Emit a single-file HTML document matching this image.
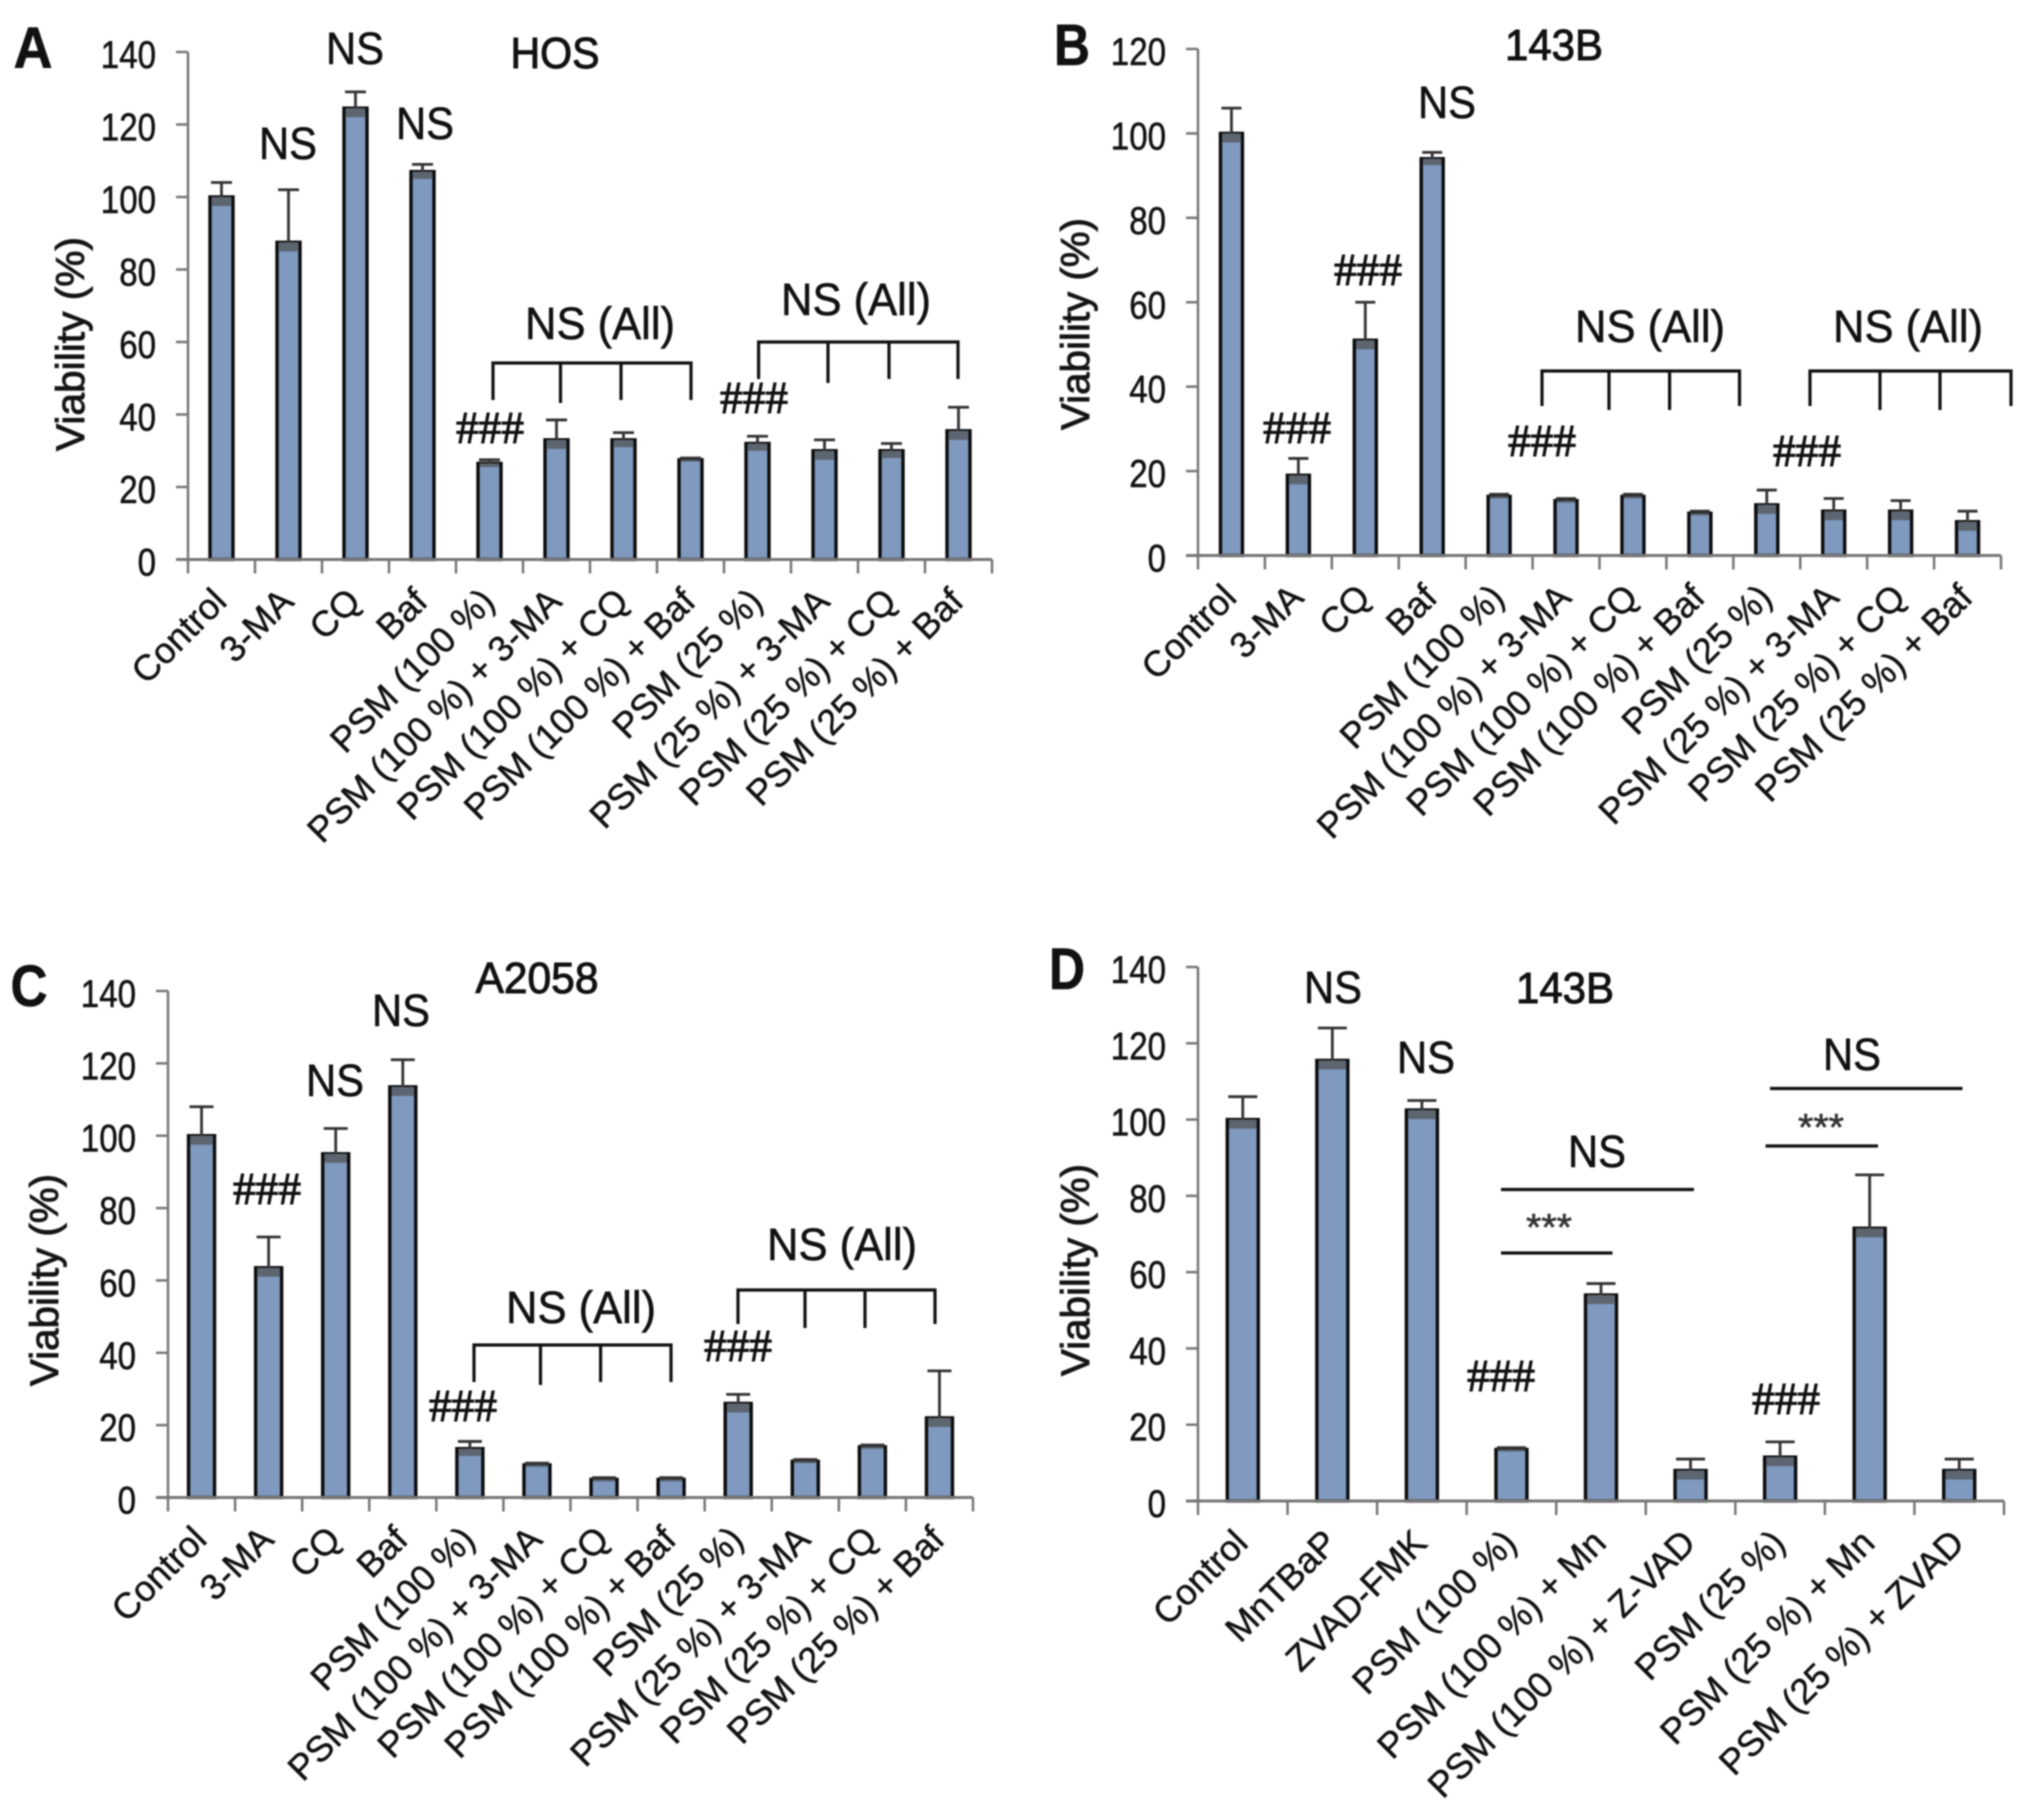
<!DOCTYPE html>
<html lang="en">
<head>
<meta charset="utf-8">
<title>Viability bar charts</title>
<style>
html,body{margin:0;padding:0;background:#fff;width:2031px;height:1815px;overflow:hidden}
svg{display:block;filter:blur(0.9px)}
text{font-family:"Liberation Sans",Arial,sans-serif;fill:#111}
.ns{font-size:45px;text-anchor:middle;stroke:#111;stroke-width:.6px}
.title{font-size:44px;text-anchor:middle;stroke:#111;stroke-width:1px}
.letter{font-size:58px;font-weight:bold;text-anchor:middle;stroke:#111;stroke-width:.6px}
.ylab{font-size:40px;text-anchor:middle;stroke:#222;stroke-width:1px}
.hash{font-family:"Liberation Serif",serif;font-size:46px;text-anchor:middle;stroke:#111;stroke-width:1px}
.star{font-size:38px;text-anchor:middle;fill:#333;stroke:#333;stroke-width:.6px}
.br{fill:none;stroke:#111;stroke-width:3.2px}
</style>
</head>
<body>
<svg id="figure" xmlns="http://www.w3.org/2000/svg" width="2031" height="1815" viewBox="0 0 2031 1815">
  <rect width="2031" height="1815" fill="#fff"/>
  <g id="panel-a">
    <text class="letter" x="33" y="68" textLength="39" lengthAdjust="spacingAndGlyphs">A</text>
    <text class="title" x="555" y="68" textLength="89" lengthAdjust="spacingAndGlyphs">HOS</text>
    <text class="ylab" transform="translate(84,344) rotate(-90)" textLength="214" lengthAdjust="spacingAndGlyphs">Viability (%)</text>
    <text class="ns" x="288" y="159" textLength="58" lengthAdjust="spacingAndGlyphs">NS</text>
    <text class="ns" x="355" y="64" textLength="58" lengthAdjust="spacingAndGlyphs">NS</text>
    <text class="ns" x="425" y="139" textLength="58" lengthAdjust="spacingAndGlyphs">NS</text>
    <text class="ns" x="600" y="339" textLength="150" lengthAdjust="spacingAndGlyphs">NS (All)</text>
    <text class="ns" x="856" y="315" textLength="150" lengthAdjust="spacingAndGlyphs">NS (All)</text>
    <text class="hash" x="490" y="443" textLength="68" lengthAdjust="spacingAndGlyphs">###</text>
    <text class="hash" x="754" y="413" textLength="68" lengthAdjust="spacingAndGlyphs">###</text>
    <path class="br" d="M493 400V363H691V400M560.5 363V403M621 363V400"/>
    <path class="br" d="M758.6 379V342H958V379M828 342V383M889 342V379"/>
  </g>
  <g id="panel-b">
    <text class="letter" x="1072" y="65" textLength="36" lengthAdjust="spacingAndGlyphs">B</text>
    <text class="title" x="1554" y="60" textLength="98" lengthAdjust="spacingAndGlyphs">143B</text>
    <text class="ylab" transform="translate(1089,324) rotate(-90)" textLength="212" lengthAdjust="spacingAndGlyphs">Viability (%)</text>
    <text class="ns" x="1447" y="118" textLength="58" lengthAdjust="spacingAndGlyphs">NS</text>
    <text class="ns" x="1650" y="342" textLength="150" lengthAdjust="spacingAndGlyphs">NS (All)</text>
    <text class="ns" x="1908" y="342" textLength="150" lengthAdjust="spacingAndGlyphs">NS (All)</text>
    <text class="hash" x="1297" y="443" textLength="68" lengthAdjust="spacingAndGlyphs">###</text>
    <text class="hash" x="1368" y="285" textLength="68" lengthAdjust="spacingAndGlyphs">###</text>
    <text class="hash" x="1542" y="456" textLength="68" lengthAdjust="spacingAndGlyphs">###</text>
    <text class="hash" x="1807" y="466" textLength="68" lengthAdjust="spacingAndGlyphs">###</text>
    <path class="br" d="M1542 406V371H1739.5V406M1609 371V410M1669.6 371V410"/>
    <path class="br" d="M1810 406V371H2011V406M1880 371V410M1940 371V410"/>
  </g>
  <g id="panel-c">
    <text class="letter" x="29" y="1006" textLength="37" lengthAdjust="spacingAndGlyphs">C</text>
    <text class="title" x="537" y="993" textLength="123" lengthAdjust="spacingAndGlyphs">A2058</text>
    <text class="ylab" transform="translate(58,1280) rotate(-90)" textLength="212" lengthAdjust="spacingAndGlyphs">Viability (%)</text>
    <text class="ns" x="401" y="1026" textLength="58" lengthAdjust="spacingAndGlyphs">NS</text>
    <text class="ns" x="335" y="1096" textLength="58" lengthAdjust="spacingAndGlyphs">NS</text>
    <text class="ns" x="581" y="1323" textLength="150" lengthAdjust="spacingAndGlyphs">NS (All)</text>
    <text class="ns" x="842" y="1260" textLength="150" lengthAdjust="spacingAndGlyphs">NS (All)</text>
    <text class="hash" x="267" y="1204" textLength="68" lengthAdjust="spacingAndGlyphs">###</text>
    <text class="hash" x="463" y="1421" textLength="68" lengthAdjust="spacingAndGlyphs">###</text>
    <text class="hash" x="738" y="1361" textLength="68" lengthAdjust="spacingAndGlyphs">###</text>
    <path class="br" d="M474 1382V1345H671V1382M540.5 1345V1385M600.6 1345V1382"/>
    <path class="br" d="M738 1324V1290H935V1324M805 1290V1328M865 1290V1328"/>
  </g>
  <g id="panel-d">
    <text class="letter" x="1067" y="989" textLength="36" lengthAdjust="spacingAndGlyphs">D</text>
    <text class="title" x="1565" y="1003" textLength="98" lengthAdjust="spacingAndGlyphs">143B</text>
    <text class="ylab" transform="translate(1089,1270) rotate(-90)" textLength="212" lengthAdjust="spacingAndGlyphs">Viability (%)</text>
    <text class="ns" x="1333" y="1003" textLength="58" lengthAdjust="spacingAndGlyphs">NS</text>
    <text class="ns" x="1426" y="1073" textLength="58" lengthAdjust="spacingAndGlyphs">NS</text>
    <text class="ns" x="1597" y="1167" textLength="58" lengthAdjust="spacingAndGlyphs">NS</text>
    <text class="ns" x="1852" y="1070" textLength="58" lengthAdjust="spacingAndGlyphs">NS</text>
    <text class="hash" x="1501" y="1391" textLength="68" lengthAdjust="spacingAndGlyphs">###</text>
    <text class="hash" x="1786" y="1414" textLength="68" lengthAdjust="spacingAndGlyphs">###</text>
    <text class="star" x="1549" y="1240" textLength="46" lengthAdjust="spacingAndGlyphs">***</text>
    <text class="star" x="1821" y="1140" textLength="46" lengthAdjust="spacingAndGlyphs">***</text>
    <path class="br" d="M1501 1189.5H1694"/>
    <path class="br" d="M1501 1253H1612.5"/>
    <path class="br" d="M1770 1088.5H1962.5"/>
    <path class="br" d="M1765.5 1146H1878"/>
  </g>
</svg>
<script>
const yTicks140 = [0, 20, 40, 60, 80, 100, 120, 140];
const yTicks120 = [0, 20, 40, 60, 80, 100, 120];

const categoriesAutophagy = ["Control", "3-MA", "CQ", "Baf", "PSM (100 %)", "PSM (100 %) + 3-MA", "PSM (100 %) + CQ", "PSM (100 %) + Baf", "PSM (25 %)", "PSM (25 %) + 3-MA", "PSM (25 %) + CQ", "PSM (25 %) + Baf"];
const categoriesApoptosis = ["Control", "MnTBaP", "ZVAD-FMK", "PSM (100 %)", "PSM (100 %) + Mn", "PSM (100 %) + Z-VAD", "PSM (25 %)", "PSM (25 %) + Mn", "PSM (25 %) + ZVAD"];

const valuesA = [100, 87.5, 124.5, 107, 26.5, 33, 33, 27.5, 32, 30, 30, 35.5];
const errorsA = [4, 14.5, 4.5, 2, 1, 5.5, 2, 0.5, 2, 3, 2, 6.5];

const valuesB = [100, 19, 51, 94, 14, 13, 14, 10, 12, 10.5, 10.5, 8];
const errorsB = [6, 4, 9, 1.5, 0.5, 0.5, 0.5, 0.5, 3.5, 3, 2.5, 2.5];

const valuesC = [100, 63.5, 95, 113.5, 13.5, 9, 5, 5, 26, 10, 14, 22];
const errorsC = [8, 8.5, 7, 7.5, 2, 0.5, 0.5, 0.5, 2.5, 0.5, 0.5, 13];

const valuesD = [100, 115.5, 102.5, 13.5, 54, 8, 11.5, 71.5, 8];
const errorsD = [6, 8.5, 2.5, 0.5, 3, 3, 4, 14, 3];

const NS = 'http://www.w3.org/2000/svg';

function mk(tag, attrs) {
  const el = document.createElementNS(NS, tag);
  for (const k in attrs) el.setAttribute(k, attrs[k]);
  return el;
}

function drawPanel(groupId, geom, categories, values, errors, ticks) {
  const group = document.getElementById(groupId);
  const maxTick = ticks[ticks.length - 1];
  const step = (geom.right - geom.left) / categories.length;
  const xScale = function (i) { return geom.left + (i + 0.5) * step; };
  const yScale = function (v) { return geom.zero - (v / maxTick) * (geom.zero - geom.top); };

  values.forEach(function (v, i) {
    const cx = xScale(i);
    const yTop = yScale(v);
    const w = geom.barWidth;
    const bar = mk('rect', {x: cx - w / 2, y: yTop, width: w, height: geom.zero - yTop, fill: '#7f99bf', stroke: '#0c0c0c', 'stroke-width': 3.4});
    
    
    group.appendChild(bar);

    const e = errors[i];
    const patchHeight = Math.min(yScale(v - e) - yTop, 9);
    const patch = mk('rect', {x: cx - w / 2 + 1.7, y: yTop, width: w - 3.4, height: patchHeight, fill: '#5c6570'});
    
    
    group.appendChild(patch);

    const upper = mk('path', {d: 'M' + cx + ' ' + yTop + 'V' + yScale(v + e) + 'M' + (cx - w / 2 + 1) + ' ' + yScale(v + e) + 'H' + (cx + w / 2 - 1), stroke: '#333', 'stroke-width': 2.8, fill: 'none'});
    
    
    group.appendChild(upper);

    const tick = mk('line', {x1: geom.left + (i + 1) * step, x2: geom.left + (i + 1) * step, y1: geom.zero, y2: geom.zero + 14, stroke: '#777', 'stroke-width': 2.5});
    
    
    group.appendChild(tick);

    const label = mk('text', {'font-size': 36, 'text-anchor': 'end', fill: '#1a1a1a', stroke: '#1a1a1a', 'stroke-width': 0.5, transform: 'translate(' + (cx + geom.labelDx) + ',' + (geom.zero + 44) + ') rotate(-45)'});
    label.textContent = categories[i];
    
    
    group.appendChild(label);
  });

  const firstTick = mk('line', {x1: geom.left, x2: geom.left, y1: geom.zero, y2: geom.zero + 14, stroke: '#777', 'stroke-width': 2.5});
  
  
  group.appendChild(firstTick);

  const xAxis = mk('line', {x1: geom.left - 12, x2: geom.right, y1: geom.zero, y2: geom.zero, stroke: '#777', 'stroke-width': 3});
  
  
  group.appendChild(xAxis);

  const yAxis = mk('line', {x1: geom.left, x2: geom.left, y1: geom.top, y2: geom.zero, stroke: '#777', 'stroke-width': 2.5});
  
  
  group.appendChild(yAxis);

  ticks.forEach(function (t) {
    const y = yScale(t);
    const mark = mk('line', {x1: geom.left - 12, x2: geom.left, y1: y, y2: y, stroke: '#777', 'stroke-width': 2.5});
    
    
    group.appendChild(mark);

    const s = String(t);
    const label = mk('text', {x: geom.left - 32, y: y + 16, 'font-size': 39, 'text-anchor': 'end', fill: '#1a1a1a', stroke: '#1a1a1a', 'stroke-width': 0.6, textLength: s.length * 18.4, lengthAdjust: 'spacingAndGlyphs'});
    label.textContent = s;
    
    
    group.appendChild(label);
  });
}

drawPanel('panel-a', {left: 188, right: 992, top: 52, zero: 559.5, barWidth: 23, labelDx: 7}, categoriesAutophagy, valuesA, errorsA, yTicks140);
drawPanel('panel-b', {left: 1198, right: 2001, top: 49, zero: 555.5, barWidth: 22, labelDx: 7}, categoriesAutophagy, valuesB, errorsB, yTicks120);
drawPanel('panel-c', {left: 168, right: 973, top: 991, zero: 1497.5, barWidth: 26, labelDx: 7}, categoriesAutophagy, valuesC, errorsC, yTicks140);
drawPanel('panel-d', {left: 1198, right: 2004, top: 967, zero: 1501, barWidth: 31, labelDx: 7}, categoriesApoptosis, valuesD, errorsD, yTicks140);
</script>
</body>
</html>
